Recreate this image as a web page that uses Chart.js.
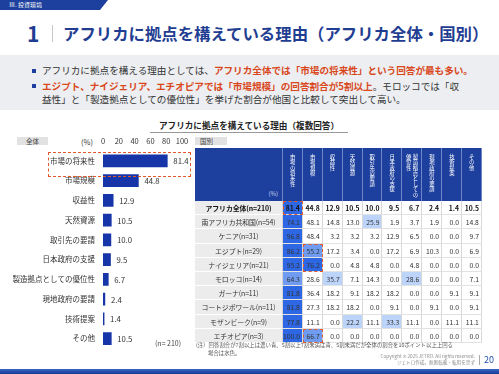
<!DOCTYPE html>
<html lang="ja">
<head>
<meta charset="UTF-8">
<title>アフリカに拠点を構えている理由</title>
<script src="https://cdn.jsdelivr.net/npm/chart.js"></script>
<style>
  * { margin: 0; padding: 0; box-sizing: border-box; }
  body { width: 499px; height: 374px; position: relative; overflow: hidden; background: #fff;
         font-family: "Noto Sans CJK JP", "Noto Sans", sans-serif; color: #333; }
  .abs { position: absolute; white-space: nowrap; }
  .tag { left: 0; top: 0; width: 108px; height: 10px; background: #1d3f9e;
         clip-path: polygon(0 0, 108px 0, 100px 10px, 0 10px); color: #fff; font-size: 6px;
         line-height: 10px; padding-left: 9px; }
  .num { left: 27px; top: 20px; font-size: 21px; font-weight: bold; color: #1f3e92; line-height: 26px; }
  .sep { left: 52px; top: 25px; width: 1px; height: 17px; background: #c8c8c8; }
  .title { left: 63px; top: 23px; font-size: 16.4px; font-weight: bold; color: #1f3e92; line-height: 20px; }
  .lead { left: 0; top: 55px; width: 499px; height: 55px; background: #eceef1; }
  .bul { width: 4px; height: 4px; background: #1d3f9e; left: 32px; }
  .txt { left: 42px; font-size: 9.6px; line-height: 13px; color: #333; }
  .red { color: #d9481c; font-weight: bold; }
  .ctitle { left: 150px; top: 120px; width: 198px; text-align: center; font-size: 8.6px; font-weight: bold;
            color: #222; border-bottom: 1px solid #999; line-height: 11px; padding-bottom: 1px; }
  .box { background: #e2e2e2; font-size: 6.5px; line-height: 8px; height: 8px; top: 137px; color: #444; }
  .pct { left: 81px; top: 137px; font-size: 7.5px; line-height: 10px; color: #333; }
  .nlab { left: 155px; top: 338px; font-size: 7px; color: #444; }
  .dash { border: 1.3px dashed #e05a2e; }
  #grid { position: absolute; left: 195px; top: 148px; display: grid;
          grid-template-columns: 88px repeat(10, 19.9px); grid-template-rows: 53px repeat(10, 14.2px); }
  .h { background: #1d3f9e; color: #fff; border-right: 1px solid #6f86c8; font-size: 5.4px;
       writing-mode: vertical-rl; text-orientation: upright; padding-top: 6px; line-height: 6.6px;
       display: flex; align-items: center; white-space: nowrap; }
  .h0 { background: #1d3f9e; border-right: 1px solid #6f86c8; position: relative; }
  .h0 span { position: absolute; right: 4px; bottom: 3px; font-size: 6px; color: #cfd8f0; }
  .lab { background: #ececec; border-bottom: 1px solid #fff; border-right: 1px solid #d4d4d4;
         font-size: 6.9px; text-align: center; line-height: 14px; white-space: nowrap; overflow: visible;
         letter-spacing: -0.1px; }
  .val { border-bottom: 1px solid #e2e2e2; border-right: 1px solid #d8d8d8; font-size: 6.8px;
         text-align: right; padding-right: 2px; line-height: 14px; color: #333; }
  .bold { font-weight: bold; color: #111; }
  .note { left: 196px; font-size: 5.4px; color: #555; line-height: 7px; }
  .copy { right: 24px; top: 354px; font-size: 4.6px; line-height: 5.5px; color: #888; text-align: right; }
  .page { left: 484px; top: 354px; font-size: 9px; color: #2050b0; line-height: 12px; }
  .psep { left: 479px; top: 355px; width: 1px; height: 10px; background: #aaa; }
  .foot { left: 0; top: 369px; width: 499px; height: 5px; background: linear-gradient(#3a66c4, #153a96); }
</style>
</head>
<body>
  <div class="abs tag">Ⅲ. 投資環境</div>
  <div class="abs num">1</div>
  <div class="abs sep"></div>
  <div class="abs title">アフリカに拠点を構えている理由（アフリカ全体・国別）</div>

  <div class="abs lead"></div>
  <div class="abs bul" style="top:69px"></div>
  <div class="abs txt" style="top:64px">アフリカに拠点を構える理由としては、<span class="red">アフリカ全体では「市場の将来性」という回答が最も多い。</span></div>
  <div class="abs bul" style="top:84px"></div>
  <div class="abs txt" style="top:79.5px"><span class="red">エジプト、ナイジェリア、エチオピアでは「市場規模」の回答割合が5割以上</span>。モロッコでは「収<br>益性」と「製造拠点としての優位性」を挙げた割合が他国と比較して突出して高い。</div>

  <div class="abs ctitle">アフリカに拠点を構えている理由（複数回答）</div>
  <div class="abs box" style="left:17px;width:31px;text-align:center">全体</div>
  <div class="abs box" style="left:195px;width:32px;padding-left:5px">国別</div>
  <div class="abs pct">(%)</div>

  <canvas id="overallChart" width="200" height="231" style="position:absolute;left:0;top:130px"></canvas>
  <div class="abs dash" style="left:48px;top:152px;width:143px;height:25px"></div>
  <div class="abs nlab">(n= 210)</div>

  <div id="grid"></div>

  <div class="abs note" style="top:342px">(注）回答割合が7割以上は濃い青、5割以上7割未満は青、5割未満だが全体の割合を10ポイント以上上回る</div>
  <div class="abs note" style="top:349.5px;left:208px">場合は水色。</div>

  <div class="abs copy">Copyright © 2025 JETRO. All rights reserved.<br>ジェトロ作成。無断転載・転用を禁ず</div>
  <div class="abs psep"></div>
  <div class="abs page">20</div>
  <div class="abs foot"></div>

<script>
// 理由（全体）
const reasons = ['市場の将来性', '市場規模', '収益性', '天然資源', '取引先の要請', '日本政府の支援',
  '製造拠点としての優位性', '現地政府の要請', '技術提案', 'その他'];
const overall = [81.4, 44.8, 12.9, 10.5, 10.0, 9.5, 6.7, 2.4, 1.4, 10.5];
const xTicks = [0, 20, 40, 60, 80, 100];

// 国別
const countries = ['アフリカ全体(n=210)', '南アフリカ共和国(n=54)', 'ケニア(n=31)', 'エジプト(n=29)',
  'ナイジェリア(n=21)', 'モロッコ(n=14)', 'ガーナ(n=11)', 'コートジボワール(n=11)', 'モザンビーク(n=9)', 'エチオピア(n=3)'];
const southAfrica = [74.1, 48.1, 14.8, 13.0, 25.9, 1.9, 3.7, 1.9, 0.0, 14.8];
const kenya = [96.8, 48.4, 3.2, 3.2, 3.2, 12.9, 6.5, 0.0, 0.0, 9.7];
const egypt = [86.2, 55.2, 17.2, 3.4, 0.0, 17.2, 6.9, 10.3, 0.0, 6.9];
const nigeria = [95.2, 76.2, 0.0, 4.8, 4.8, 0.0, 4.8, 0.0, 0.0, 0.0];
const morocco = [64.3, 28.6, 35.7, 7.1, 14.3, 0.0, 28.6, 0.0, 0.0, 7.1];
const ghana = [81.8, 36.4, 18.2, 9.1, 18.2, 18.2, 0.0, 0.0, 9.1, 9.1];
const coteDivoire = [81.8, 27.3, 18.2, 18.2, 0.0, 9.1, 0.0, 9.1, 0.0, 9.1];
const mozambique = [77.8, 11.1, 0.0, 22.2, 11.1, 33.3, 11.1, 0.0, 11.1, 11.1];
const ethiopia = [100.0, 66.7, 0.0, 0.0, 0.0, 0.0, 0.0, 0.0, 0.0, 0.0];
const tableRows = [overall, southAfrica, kenya, egypt, nigeria, morocco, ghana, coteDivoire, mozambique, ethiopia];
const headerLabels = ['市場の将来性', '市場規模', '収益性', '天然資源', '取引先の要請', '日本政府の支援',
  '製造拠点としての<br>優位性', '現地政府の要請', '技術提案', 'その他'];

const FONT = '"Noto Sans CJK JP", "Noto Sans", sans-serif';

// 棒の右に数値を書く
const valueLabels = {
  id: 'valueLabels',
  afterDatasetsDraw(chart) {
    const ctx = chart.ctx;
    const meta = chart.getDatasetMeta(0);
    ctx.save();
    ctx.font = '7.8px ' + FONT;
    ctx.fillStyle = '#333';
    ctx.textBaseline = 'middle';
    meta.data.forEach((bar, i) => {
      ctx.fillText(overall[i].toFixed(1), bar.x + 6, bar.y + 0.5);
    });
    ctx.restore();
  }
};

new Chart(document.getElementById('overallChart'), {
  type: 'bar',
  data: {
    labels: reasons,
    datasets: [{ data: overall, backgroundColor: '#1535a8', barThickness: 12 }]
  },
  options: {
    indexAxis: 'y',
    responsive: false,
    animation: false,
    layout: { padding: { left: 0, right: 18, top: 0, bottom: 2 } },
    plugins: { legend: { display: false }, tooltip: { enabled: false } },
    scales: {
      x: {
        position: 'top', min: 0, max: 100,
        afterBuildTicks: axis => { axis.ticks = xTicks.map(v => ({ value: v })); },
        afterFit: axis => { axis.height = 21; },
        grid: { display: false, drawTicks: false },
        border: { display: false },
        ticks: { font: { size: 7.5, family: FONT }, color: '#333', padding: 5, maxRotation: 0 }
      },
      y: {
        afterFit: axis => { axis.width = 103; },
        grid: { display: false, drawTicks: false },
        border: { display: false },
        ticks: { font: { size: 7.5, family: FONT }, color: '#333', padding: 8 }
      }
    }
  },
  plugins: [valueLabels]
});

// 国別の表
function cellColor(v, col) {
  if (v >= 70) return '#2d67e4';
  if (v >= 50) return '#6f9cf0';
  if (v - overall[col] >= 10) return '#bcd3fa';
  return '#fff';
}

const grid = document.getElementById('grid');
let html = '<div class="h0"><span>(%)</span></div>';
headerLabels.forEach(h => { html += '<div class="h">' + h + '</div>'; });
tableRows.forEach((row, r) => {
  const b = r === 0 ? ' bold' : '';
  html += '<div class="lab' + b + '">' + countries[r] + '</div>';
  row.forEach((v, c) => {
    html += '<div class="val' + b + '" style="background:' + cellColor(v, c) + '">' + v.toFixed(1) + '</div>';
  });
});
grid.innerHTML = html;

// 赤い点線の枠
const gx = 195 + 88, gy = 148 + 53, cw = 19.9, rh = 14.2;
[[0, 0, 1], [1, 3, 2], [1, 9, 1]].forEach(([c, r, n]) => {
  const d = document.createElement('div');
  d.className = 'abs dash';
  d.style.left = (gx + c * cw) + 'px';
  d.style.top = (gy + r * rh) + 'px';
  d.style.width = cw + 'px';
  d.style.height = (n * rh) + 'px';
  document.body.appendChild(d);
});
</script>
</body>
</html>
